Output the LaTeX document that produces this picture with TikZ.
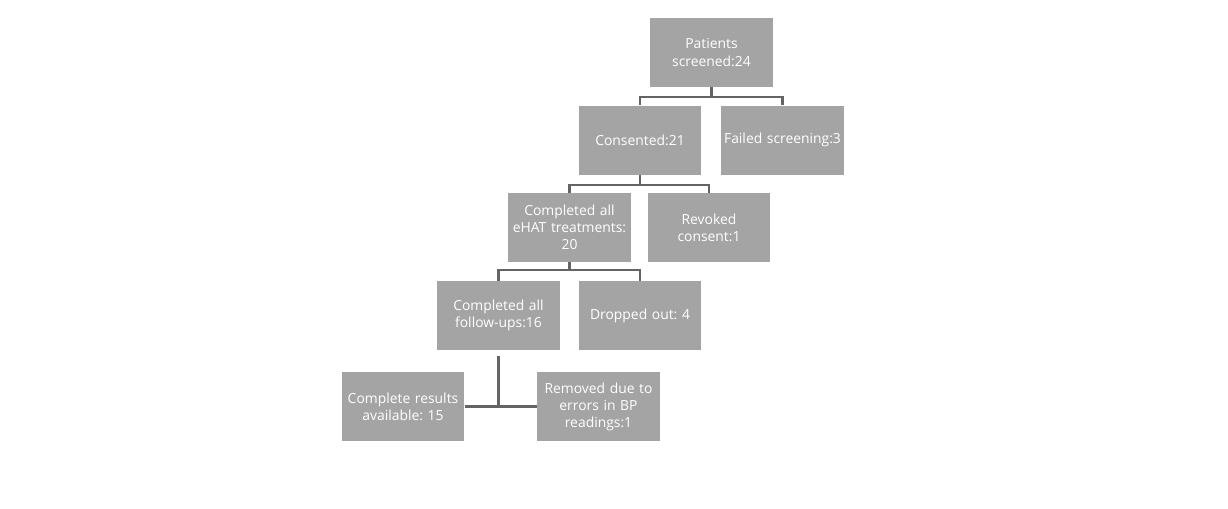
\documentclass[tikz,border=0pt]{standalone}
\usepackage{fontspec}
\setmainfont{Open Sans}
\frenchspacing
\definecolor{boxgray}{RGB}{164,164,164}
\definecolor{linegray}{RGB}{100,100,100}
\tikzset{
  flowbox/.style={fill=boxgray, text=white, align=center, inner sep=0pt,
    minimum width=2.46cm, minimum height=1.38cm, text width=2.44cm,
    font=\fontsize{7.9}{9.7}\selectfont},
  link/.style={draw=linegray, line width=1.3pt}
}
\begin{document}
\begin{tikzpicture}[x=0.02cm,y=-0.02cm]
  \useasboundingbox (0,0) rectangle (1228,508);
  \node[flowbox] at (711.5,52.5) (P) {Patients\\screened:24};
  \node[flowbox] at (640,140) (C) {Consented:21};
  \node[flowbox] at (782.5,140) (F) {Failed screening:3};
  \node[flowbox] at (569.5,227.5) (T) {Completed all\\eHAT treatments:\\20};
  \node[flowbox] at (709,227.5) (V) {Revoked\\consent:1};
  \node[flowbox] at (498.5,315.5) (U) {Completed all\\follow-ups:16};
  \node[flowbox] at (640,315.5) (D) {Dropped out: 4};
  \node[flowbox] at (403,406.5) (A) {Complete results\\available: 15};
  \node[flowbox] at (598.5,406.5) (R) {Removed due to\\errors in BP\\readings:1};
  \draw[link] (P.south) -- ++(0,10) -| (C.north); \draw[link] (P.south) -- ++(0,10) -| (F.north);
  \draw[link] (C.south) -- ++(0,10) -| (T.north); \draw[link] (C.south) -- ++(0,10) -| (V.north);
  \draw[link] (T.south) -- ++(0,8) -| (U.north); \draw[link] (T.south) -- ++(0,8) -| (D.north);
  \draw[link] (U.south) ++(0,6) -- (U.south |- R.west);
  \draw[link] (A.east) -- (R.west);
\end{tikzpicture}
\end{document}
